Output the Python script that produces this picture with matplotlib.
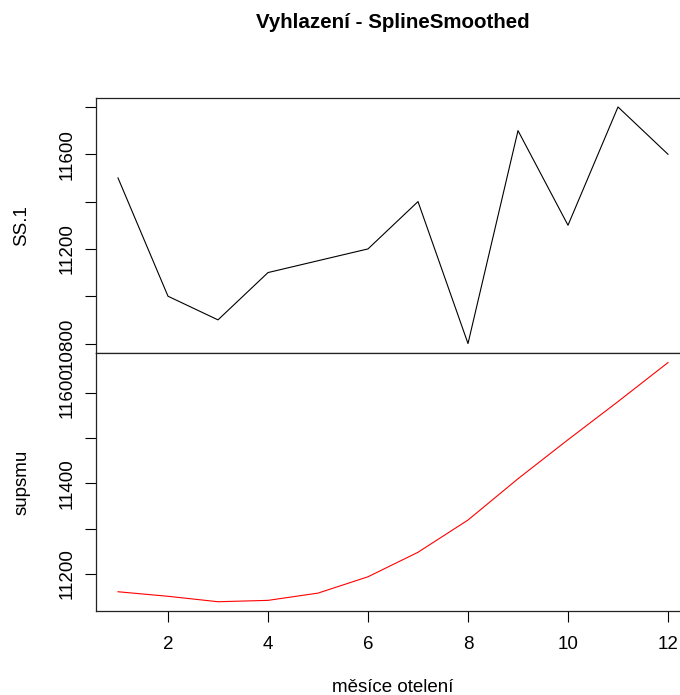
import numpy as np
import matplotlib
matplotlib.use('Agg')
import matplotlib.pyplot as plt

plt.rcParams['font.family'] = ['Liberation Sans', 'DejaVu Sans']
plt.rcParams['font.size'] = 13.5

# měsíce otelení a hodnoty
months = np.arange(1, 13)
ss1 = [11500, 11000, 10900, 11100, 11150, 11200, 11400, 10800, 11700, 11300, 11800, 11600]
supsmu = [11161, 11151, 11139, 11142, 11158, 11194, 11248, 11319, 11410, 11496, 11580, 11666]

ss1_ticks = [10800, 11000, 11200, 11400, 11600, 11800]
ss1_labels = ['10800', '', '11200', '', '11600', '']
sup_ticks = [11200, 11300, 11400, 11500, 11600]
sup_labels = ['11200', '', '11400', '', '11600']
x_ticks = [2, 4, 6, 8, 10, 12]

W, H = 680, 695
fig = plt.figure(figsize=(W / 100, H / 100), dpi=100)


def px_box(left, top, right, bottom):
    return [left / W, 1 - bottom / H, (right - left) / W, (bottom - top) / H]


def r_range(vals):
    lo, hi = min(vals), max(vals)
    d = (hi - lo) * 0.04
    return lo - d, hi + d


ax1 = fig.add_axes(px_box(96, 97.5, 690, 353))
ax2 = fig.add_axes(px_box(96, 353, 690, 611.3))

ax1.plot(months, ss1, color='black', lw=0.8)
ax2.plot(months, supsmu, color='#ff0000', lw=0.8)

for ax in (ax1, ax2):
    ax.set_xlim(*r_range(months))
    for sp in ax.spines.values():
        sp.set_linewidth(0.9)
        sp.set_color('#222222')
    ax.tick_params(axis='y', length=8, width=0.8, pad=7, labelrotation=90)

ax1.set_ylim(*r_range(ss1))
ax1.set_yticks(ss1_ticks)
ax1.set_yticklabels(ss1_labels)
ax1.set_xticks([])

ax2.set_ylim(*r_range(supsmu))
ax2.set_yticks(sup_ticks)
ax2.set_yticklabels(sup_labels)
ax2.set_xticks(x_ticks)
ax2.tick_params(axis='x', length=8, width=0.8, pad=10)

for ax in (ax1, ax2):
    for lab in ax.get_yticklabels():
        lab.set_va('center')

fig.text(22 / W, 1 - 226 / H, 'SS.1', rotation=90, ha='center', va='center')
fig.text(22 / W, 1 - 482 / H, 'supsmu', rotation=90, ha='center', va='center')
fig.text(393 / W, 3.5 / H, 'měsíce otelení', ha='center', va='baseline')
fig.text(393 / W, 1 - 28.3 / H, 'Vyhlazení - SplineSmoothed', ha='center', va='baseline',
         fontsize=14.8, fontweight='bold')

fig.savefig('out.png', dpi=100)
